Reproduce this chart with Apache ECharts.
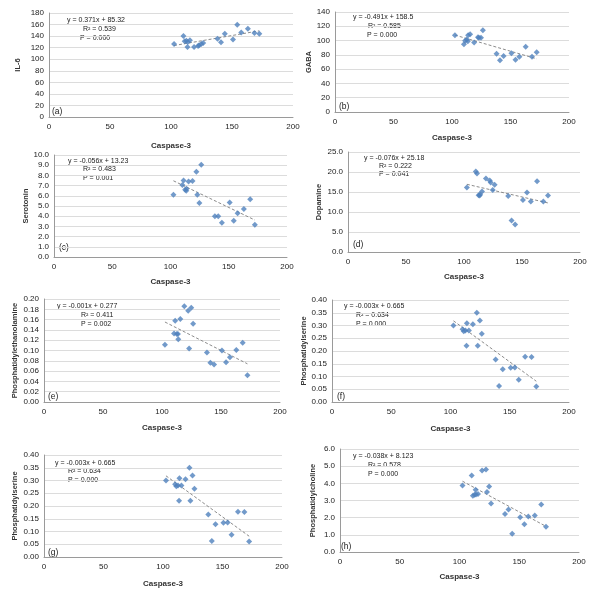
<!DOCTYPE html>
<html><head><meta charset="utf-8">
<script src="https://cdn.jsdelivr.net/npm/echarts@6/dist/echarts.min.js"></script>
<style>html,body{margin:0;padding:0;background:#fff}#c{width:600px;height:590px}</style>
</head><body><div id="c"></div>
<script>
// ---- data ----
const caspase = [102.5,110.2,111.2,112.6,113.5,113.8,115.5,118.9,122.2,123.0,124.8,126.4,138.1,141.0,144.1,150.8,154.3,157.6,163.0,168.4,172.4];
const il6 = [126.3,140,131.3,131.8,121.2,130,133,121.2,122.9,124,126.5,128.2,135.5,129.4,144.2,134,159.7,146.4,152.9,145.3,144.2];
const gaba = [107.6,95,99.6,101.6,99.2,107.6,109,97.4,104.8,103.8,103.8,114.5,81.5,72.4,78.3,82.1,73.2,77.4,91.3,77.4,83.5];
const serotonin = [6.1,7.05,7.5,6.6,6.5,6.7,7.4,7.45,8.35,6.1,5.3,9.05,4.0,4.0,3.35,5.35,3.55,4.3,4.7,5.65,3.15];
const dopamine = [16.1,20.1,19.6,14.2,14.1,14.4,15.1,18.4,17.9,17.4,15.5,16.8,14.0,7.9,6.9,13.0,14.9,12.6,17.7,12.6,14.1];
const pe = [0.111,0.133,0.158,0.132,0.132,0.122,0.161,0.186,0.177,0.104,0.183,0.152,0.096,0.076,0.073,0.100,0.077,0.087,0.101,0.115,0.052];
const ps = [0.300,0.285,0.277,0.280,0.221,0.309,0.280,0.305,0.350,0.221,0.320,0.268,0.167,0.063,0.128,0.134,0.135,0.087,0.177,0.176,0.061];
const pc = [3.87,4.45,3.28,3.33,3.62,3.35,3.38,4.75,4.80,3.50,3.82,2.83,2.21,2.47,1.07,2.03,1.62,2.07,2.13,2.76,1.47];

const yNames = ['IL-6','GABA','Serotonin','Dopamine','Phosphatidylethanolamine','Phosphatidylserine','Phosphatidylserine','Phosphatidylcholine'];
const panelLabels = ['(a)','(b)','(c)','(d)','(e)','(f)','(g)','(h)'];
const equations = ['y = 0.371x + 85.32','y = -0.491x + 158.5','y = -0.056x + 13.23','y = -0.076x + 25.18','y = -0.001x + 0.277','y = -0.003x + 0.665','y = -0.003x + 0.665','y = -0.038x + 8.123'];
const r2 = ['R² = 0.539','R² = 0.585','R² = 0.483','R² = 0.222','R² = 0.411','R² = 0.634','R² = 0.634','R² = 0.578'];
const pvals = ['P = 0.000','P = 0.000','P = 0.001','P = 0.041','P = 0.002','P = 0.000','P = 0.000','P = 0.000'];
const yMax = [180,140,10,25,0.2,0.4,0.4,6];
const yInterval = [20,20,1,5,0.02,0.05,0.05,1];
const yDecimals = [0,0,1,1,2,2,2,1];
const series = [il6,gaba,serotonin,dopamine,pe,ps,ps,pc];

// ---- layout (pixels) ----
const L = [
 {l:49,r:293,t:13,b:117, ng:27, xg:25, eq:[67,20], rr:[83,29], pp:[80,38], lab:[52,112]},
 {l:335,r:569,t:12,b:112, ng:21, xg:22, eq:[353,17], rr:[368,26], pp:[367,35], lab:[339,107]},
 {l:54,r:287,t:155,b:257, ng:23, xg:21, eq:[68,161], rr:[83,169], pp:[83,178], lab:[59,248]},
 {l:348,r:580,t:152,b:252, ng:25, xg:21, eq:[364,158], rr:[379,166], pp:[379,174], lab:[353,245]},
 {l:44,r:280,t:299,b:402, ng:25, xg:22, eq:[57,306], rr:[81,315], pp:[81,324], lab:[48,397]},
 {l:332,r:569,t:300,b:402, ng:24, xg:23, eq:[344,306], rr:[356,315], pp:[356,324], lab:[337,397]},
 {l:44,r:282,t:455,b:557, ng:25, xg:23, eq:[55,463], rr:[68,471], pp:[68,480], lab:[48,553]},
 {l:340,r:579,t:449,b:552, ng:23, xg:21, eq:[353,456], rr:[368,465], pp:[368,474], lab:[341,547]}
];

function fit(xs, ys){
  const n=xs.length; let sx=0,sy=0,sxx=0,sxy=0;
  for(let i=0;i<n;i++){sx+=xs[i];sy+=ys[i];sxx+=xs[i]*xs[i];sxy+=xs[i]*ys[i];}
  const m=(n*sxy-sx*sy)/(n*sxx-sx*sx); const b=(sy-m*sx)/n;
  const x0=Math.min(...xs), x1=Math.max(...xs);
  return [[x0,m*x0+b],[x1,m*x1+b]];
}

const FONT = 'Liberation Sans, Arial, sans-serif';
const grid=[], xAxis=[], yAxis=[], ser=[], graphic=[];
L.forEach((p,i)=>{
  grid.push({left:p.l, top:p.t, width:p.r-p.l, height:p.b-p.t, containLabel:false});
  xAxis.push({gridIndex:i, type:'value', min:0, max:200, interval:50,
    name:'Caspase-3', nameLocation:'middle', nameGap:p.xg,
    nameTextStyle:{fontSize:8, fontWeight:'bold', color:'#333', fontFamily:FONT},
    axisLine:{lineStyle:{color:'#9a9a9a'}}, axisTick:{show:false},
    axisLabel:{fontSize:8, color:'#222', margin:6, fontFamily:FONT}, splitLine:{show:false}});
  yAxis.push({gridIndex:i, type:'value', min:0, max:yMax[i], interval:yInterval[i],
    name:yNames[i], nameLocation:'middle', nameGap:p.ng,
    nameTextStyle:{fontSize:7.5, fontWeight:'bold', color:'#333', fontFamily:FONT},
    axisLine:{show:true, lineStyle:{color:'#9a9a9a'}}, axisTick:{show:false},
    axisLabel:{fontSize:8, color:'#222', margin:5, fontFamily:FONT, formatter:v=>v.toFixed(yDecimals[i])},
    splitLine:{lineStyle:{color:'#dcdcdc', width:1}}});
  const data = caspase.map((x,k)=>[x,series[i][k]]);
  ser.push({type:'scatter', xAxisIndex:i, yAxisIndex:i, data:data, symbol:'diamond', symbolSize:6,
    itemStyle:{color:'#4f81bd'}, silent:true});
  ser.push({type:'line', xAxisIndex:i, yAxisIndex:i, data:fit(caspase, series[i]), symbol:'none',
    lineStyle:{color:'#8c8c8c', width:1, type:[3,2]}, silent:true, z:1});
  const txt=(pos,s,extra)=>graphic.push({type:'text', x:pos[0], y:pos[1],
    style:Object.assign({text:s, fontSize:7, fill:'#222', fontFamily:FONT, textVerticalAlign:'middle', verticalAlign:'middle'},extra||{})});
  txt(p.eq, equations[i]); txt(p.rr, r2[i]); txt(p.pp, pvals[i]);
  txt(p.lab, panelLabels[i], {fontSize:8.5});
});

const chart = echarts.init(document.getElementById('c'), null, {renderer:'canvas'});
chart.setOption({animation:false, backgroundColor:'#fff', grid, xAxis, yAxis, series:ser, graphic});
</script></body></html>
